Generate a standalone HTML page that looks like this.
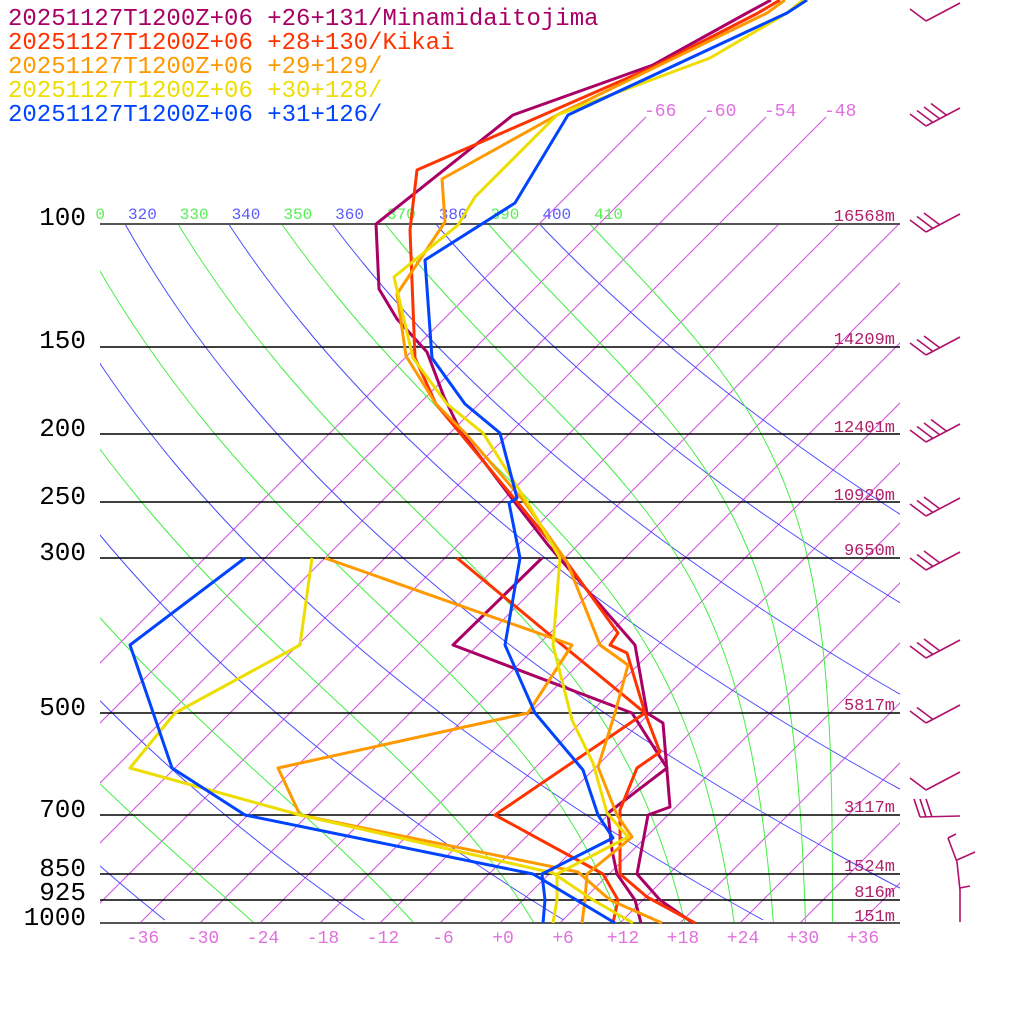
<!DOCTYPE html>
<html><head><meta charset="utf-8"><style>
html,body{margin:0;padding:0;background:#fff;width:1024px;height:1024px;overflow:hidden}
svg{display:block}
text{font-family:"Liberation Mono","DejaVu Sans Mono",monospace}
</style></head><body>
<svg id="s" width="1024" height="1024" viewBox="0 0 1024 1024" xmlns="http://www.w3.org/2000/svg">
<defs>
<clipPath id="plot"><rect x="100" y="224" width="800" height="699"/></clipPath>
<clipPath id="top"><rect x="100" y="100" width="800" height="130"/></clipPath>
<clipPath id="lab"><rect x="95" y="190" width="805" height="40"/></clipPath>
</defs>
<g id="grid"></g>
<g id="hl" stroke="#000" stroke-width="1.5">
<line x1="100" y1="224" x2="900" y2="224" stroke="#555" stroke-width="2"/>
<line x1="100" y1="347" x2="900" y2="347"/>
<line x1="100" y1="434" x2="900" y2="434"/>
<line x1="100" y1="502" x2="900" y2="502"/>
<line x1="100" y1="558" x2="900" y2="558"/>
<line x1="100" y1="713" x2="900" y2="713"/>
<line x1="100" y1="815" x2="900" y2="815"/>
<line x1="100" y1="874" x2="900" y2="874"/>
<line x1="100" y1="900" x2="900" y2="900"/>
<line x1="100" y1="923" x2="900" y2="923" stroke="#555" stroke-width="2"/>
</g>
<g font-size="26" fill="#000" text-anchor="end">
<text x="86" y="225">100</text><text x="86" y="348">150</text><text x="86" y="436">200</text>
<text x="86" y="504">250</text><text x="86" y="560">300</text><text x="86" y="715">500</text>
<text x="86" y="817">700</text><text x="86" y="876">850</text><text x="86" y="900">925</text>
<text x="86" y="925">1000</text>
</g>
<g font-size="17" fill="#b0206a" text-anchor="end">
<text x="895" y="221">16568m</text><text x="895" y="344">14209m</text><text x="895" y="432">12401m</text>
<text x="895" y="500">10920m</text><text x="895" y="555">9650m</text><text x="895" y="710">5817m</text>
<text x="895" y="812">3117m</text><text x="895" y="871">1524m</text><text x="895" y="897">816m</text>
<text x="895" y="921">151m</text>
</g>
<g id="sound" fill="none" stroke-width="3" stroke-linejoin="round"></g>
<g font-size="24">
<text x="8" y="25" fill="#aa0066">20251127T1200Z+06 +26+131/Minamidaitojima</text>
<text x="8" y="49" fill="#ff3300">20251127T1200Z+06 +28+130/Kikai</text>
<text x="8" y="73" fill="#ff9900">20251127T1200Z+06 +29+129/</text>
<text x="8" y="97" fill="#eedd00">20251127T1200Z+06 +30+128/</text>
<text x="8" y="121" fill="#0044ff">20251127T1200Z+06 +31+126/</text>
</g>
<g id="barbs" stroke="#b0106a" stroke-width="1.6" fill="none"></g>
</svg>
<script>
(function(){
var NS="http://www.w3.org/2000/svg";
function el(tag,attrs,parent,txt){var e=document.createElementNS(NS,tag);for(var k in attrs)e.setAttribute(k,attrs[k]);if(txt!=null)e.textContent=txt;parent.appendChild(e);return e;}
var K=303.6;
function P(y){return 1000*Math.exp(-(923-y)/K);}
function X(tc,y){return 500+10*tc+(923-y);}
var grid=document.getElementById('grid');
var gp=el('g',{'clip-path':'url(#plot)'},grid);
for(var t=-66;t<=60;t+=6){
  el('line',{x1:X(t,923),y1:923,x2:X(t,224),y2:224,stroke:'#d050e0','stroke-width':1},gp);
}
var gt=el('g',{'clip-path':'url(#top)'},grid);
var ilab=el('g',{'font-size':'18',fill:'#e070e0'},grid);
for(var t=-66;t<=-48;t+=6){
  el('line',{x1:X(t,224),y1:224,x2:X(t,117),y2:117,stroke:'#d050e0','stroke-width':1},gt);
  el('text',{x:X(t,117)-2,y:116},ilab,String(t));
}
var bl=el('g',{'font-size':'18',fill:'#e070e0','text-anchor':'middle'},grid);
for(var t=-36;t<=36;t+=6){el('text',{x:X(t,923)+3,y:943},bl,(t>=0?'+':'')+t);}
var lab=el('g',{'font-size':'16','clip-path':'url(#lab)'},grid);
for(var th=180;th<=400;th+=20){
  var pts=[];
  for(var y=224;y<=923;y+=4){var p=P(y);var T=th*Math.pow(p/1000,0.2857)-273.15;pts.push(X(T,y).toFixed(1)+','+y);}
  el('polyline',{points:pts.join(' '),fill:'none',stroke:'#4a4aff','stroke-width':1},gp);
  if(th>=320&&th<=400){var T0=th*Math.pow(0.1,0.2857)-273.15;el('text',{x:X(T0,224)+3,y:219,fill:'#5a5aff'},lab,String(th));}
}
function es(tc){return 6.112*Math.exp(17.67*tc/(tc+243.5));}
function thetaE(T,p){var tc=T-273.15;var e=es(tc);if(e>p*0.5)e=p*0.5;var r=622*e/(p-e);
  return T*Math.pow(1000/p,0.2854*(1-0.00028*r))*Math.exp((3.376/T-0.00254)*r*(1+0.00081*r));}
for(var te=190;te<=410;te+=20){
  var pts=[];
  for(var y=923;y>=224;y-=3){var p=P(y);var lo=120,hi=330;
    for(var i=0;i<40;i++){var m=(lo+hi)/2;if(thetaE(m,p)<te)lo=m;else hi=m;}
    pts.push(X(lo-273.15,y).toFixed(1)+','+y);}
  el('polyline',{points:pts.join(' '),fill:'none',stroke:'#44ee44','stroke-width':1},gp);
  if(te>=310&&te<=410){var T0=te*Math.pow(0.1,0.2857)-273.15;el('text',{x:X(T0,224)+3,y:219,fill:'#55ee55'},lab,String(te));}
}
var S=[
['#aa0066',[[771,0],[747,13],[653,65],[513,115],[376,224],[379,289],[397,319],[427,352],[444,397],[460,430],[513,500],[548,545],[635,645],[647,713],[663,723],[670,807],[648,815],[637,874],[660,900],[693,923]]],
['#aa0066',[[542,558],[453,645],[632,713],[667,768],[608,813],[612,850],[617,874],[635,900],[641,923]]],
['#ff3300',[[780,0],[758,13],[653,67],[417,170],[410,230],[415,358],[436,404],[460,433],[513,497],[563,557],[618,633],[610,645],[627,653],[645,713],[660,752],[637,768],[620,810],[620,874],[647,897],[695,923]]],
['#ff3300',[[457,558],[550,635],[645,713],[495,815],[603,874],[618,900],[613,923]]],
['#ff9900',[[785,0],[767,13],[557,115],[442,179],[445,222],[397,294],[406,356],[436,404],[465,433],[523,500],[567,562],[600,645],[628,665],[615,713],[598,767],[617,815],[632,837],[587,874],[585,900],[582,923]]],
['#ff9900',[[325,558],[572,645],[528,713],[278,768],[300,815],[578,872],[610,900],[662,923]]],
['#eedd00',[[803,0],[787,13],[710,58],[557,115],[475,197],[458,225],[394,277],[413,358],[447,404],[483,433],[527,502],[560,558],[553,645],[572,720],[593,763],[607,813],[628,837],[557,874],[557,900],[553,923]]],
['#eedd00',[[312,558],[300,645],[175,713],[130,768],[300,815],[553,873],[593,900],[633,923]]],
['#0044ff',[[807,0],[787,13],[568,115],[515,203],[425,260],[432,358],[465,404],[500,433],[517,498],[509,503],[520,558],[505,645],[535,713],[583,770],[598,815],[613,838],[542,874],[545,900],[543,923]]],
['#0044ff',[[245,558],[130,645],[172,768],[245,815],[533,874],[615,923]]]
];
var sg=document.getElementById('sound');
S.forEach(function(s){el('polyline',{points:s[1].map(function(q){return q.join(',');}).join(' '),stroke:s[0]},sg);});
var bg=document.getElementById('barbs');
var B=[[13,1],[118,4],[224,3],[347,3],[434,4],[508,3],[562,3],[650,3],[715,2],[782,1]];
B.forEach(function(b){var y=b[0],n=b[1];
  var x1=960,y1=y-10,x2=926,y2=y+8;
  el('line',{x1:x1,y1:y1,x2:x2,y2:y2},bg);
  for(var i=0;i<n;i++){var fx=x2+i*7,fy=y2-i*3.5;el('line',{x1:fx,y1:fy,x2:fx-16,y2:fy-12},bg);}
});
el('line',{x1:960,y1:816,x2:920,y2:817},bg);
for(var i=0;i<3;i++){el('line',{x1:920+i*6,y1:817,x2:914+i*6,y2:799},bg);}
el('polyline',{points:'948,838 957,862 960,890 960,922'},bg);
el('line',{x1:948,y1:838,x2:956,y2:834},bg);
el('line',{x1:957,y1:860,x2:975,y2:852},bg);
el('line',{x1:960,y1:888,x2:970,y2:886},bg);
})();
</script>
</body></html>
